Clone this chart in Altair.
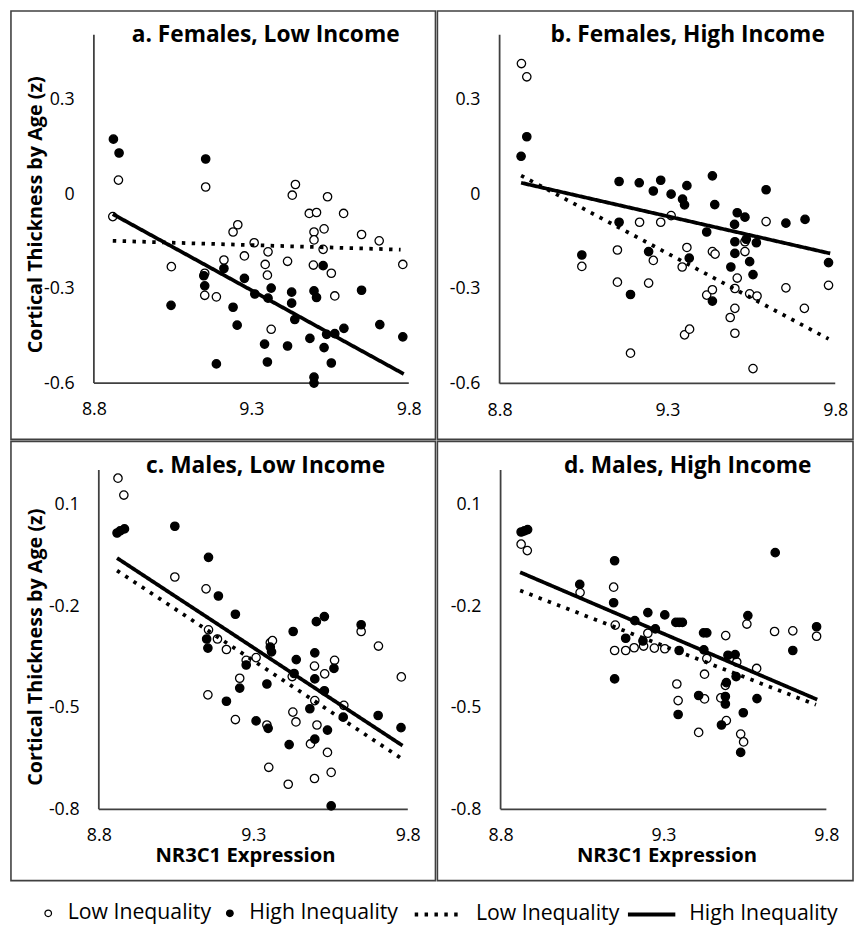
import altair as alt
import pandas as pd

# ---------------- data ----------------
# Panel a. Females, Low Income
A_LOW_X = [8.878, 8.860, 9.155, 9.046, 9.152, 9.152, 9.189, 9.213, 9.242, 9.257,
           9.278, 9.309, 9.344, 9.353, 9.351, 9.363, 9.415, 9.430, 9.440, 9.484,
           9.507, 9.499, 9.499, 9.531, 9.528, 9.497, 9.542, 9.554, 9.565, 9.593,
           9.650, 9.706, 9.781]
A_LOW_Y = [0.045, -0.071, 0.023, -0.230, -0.251, -0.321, -0.326, -0.209, -0.120, -0.097,
           -0.196, -0.154, -0.223, -0.183, -0.257, -0.429, -0.213, -0.003, 0.031, -0.061,
           -0.058, -0.120, -0.145, -0.110, -0.175, -0.225, -0.008, -0.251, -0.323, -0.061,
           -0.128, -0.148, -0.223]
A_HIGH_X = [8.862, 8.880, 9.155, 9.149, 9.152, 9.045, 9.189, 9.213, 9.242, 9.255,
            9.278, 9.311, 9.342, 9.351, 9.363, 9.353, 9.415, 9.428, 9.428, 9.438,
            9.486, 9.499, 9.507, 9.499, 9.499, 9.528, 9.531, 9.539, 9.554, 9.565,
            9.594, 9.650, 9.708, 9.781]
A_HIGH_Y = [0.175, 0.131, 0.112, -0.259, -0.291, -0.353, -0.539, -0.236, -0.359, -0.416,
            -0.267, -0.317, -0.476, -0.533, -0.298, -0.330, -0.482, -0.311, -0.346, -0.398,
            -0.458, -0.307, -0.328, -0.581, -0.600, -0.227, -0.487, -0.445, -0.536, -0.443,
            -0.426, -0.305, -0.414, -0.453]
A_FIT_LOW_X = [8.860, 9.774]
A_FIT_LOW_Y = [-0.148, -0.176]
A_FIT_HIGH_X = [8.860, 9.784]
A_FIT_HIGH_Y = [-0.063, -0.571]

# Panel b. Females, High Income
B_LOW_X = [8.865, 8.881, 9.045, 9.151, 9.151, 9.190, 9.217, 9.244, 9.258, 9.280,
           9.311, 9.344, 9.358, 9.351, 9.366, 9.417, 9.434, 9.434, 9.442, 9.487,
           9.501, 9.501, 9.501, 9.508, 9.531, 9.531, 9.545, 9.555, 9.567, 9.594,
           9.653, 9.708, 9.780]
B_LOW_Y = [0.414, 0.372, -0.229, -0.177, -0.279, -0.504, -0.089, -0.282, -0.210, -0.089,
           -0.068, -0.231, -0.169, -0.446, -0.428, -0.320, -0.303, -0.182, -0.190, -0.391,
           -0.362, -0.441, -0.299, -0.266, -0.182, -0.151, -0.316, -0.553, -0.323, -0.087,
           -0.297, -0.362, -0.289]
B_HIGH_X = [8.864, 8.881, 9.156, 9.156, 9.045, 9.190, 9.216, 9.244, 9.258, 9.280,
            9.311, 9.345, 9.351, 9.358, 9.365, 9.417, 9.434, 9.434, 9.441, 9.489,
            9.500, 9.501, 9.501, 9.508, 9.531, 9.535, 9.545, 9.555, 9.565, 9.594,
            9.653, 9.710, 9.780]
B_HIGH_Y = [0.120, 0.182, 0.040, -0.089, -0.193, -0.318, 0.036, -0.182, 0.010, 0.044,
            0.000, -0.016, -0.034, 0.027, -0.203, -0.120, 0.058, -0.339, -0.033, -0.231,
            -0.096, -0.151, -0.188, -0.059, -0.073, -0.143, -0.214, -0.255, -0.154, 0.014,
            -0.092, -0.080, -0.217]
B_FIT_LOW_X = [8.864, 9.780]
B_FIT_LOW_Y = [0.059, -0.459]
B_FIT_HIGH_X = [8.864, 9.785]
B_FIT_HIGH_Y = [0.036, -0.188]

# Panel c. Males, Low Income
C_LOW_X = [8.862, 8.881, 9.046, 9.147, 9.155, 9.184, 9.213, 9.153, 9.256, 9.242,
           9.277, 9.309, 9.355, 9.362, 9.344, 9.350, 9.413, 9.428, 9.438, 9.426,
           9.498, 9.531, 9.563, 9.499, 9.506, 9.485, 9.498, 9.540, 9.552, 9.593,
           9.649, 9.705, 9.779]
C_LOW_Y = [0.178, 0.128, -0.114, -0.149, -0.270, -0.297, -0.328, -0.462, -0.413, -0.535,
           -0.360, -0.352, -0.308, -0.302, -0.551, -0.676, -0.726, -0.513, -0.542, -0.408,
           -0.377, -0.400, -0.360, -0.479, -0.551, -0.607, -0.709, -0.632, -0.691, -0.493,
           -0.275, -0.318, -0.409]
C_HIGH_X = [8.859, 8.869, 8.883, 9.046, 9.155, 9.187, 9.242, 9.149, 9.153, 9.213,
            9.256, 9.277, 9.309, 9.344, 9.348, 9.359, 9.355, 9.416, 9.429, 9.439,
            9.432, 9.499, 9.499, 9.504, 9.530, 9.483, 9.499, 9.530, 9.540, 9.561,
            9.591, 9.552, 9.649, 9.704, 9.778]
C_HIGH_Y = [0.016, 0.022, 0.028, 0.036, -0.056, -0.170, -0.224, -0.297, -0.324, -0.481,
            -0.442, -0.374, -0.539, -0.430, -0.561, -0.335, -0.321, -0.609, -0.275, -0.358,
            -0.399, -0.338, -0.415, -0.246, -0.231, -0.503, -0.593, -0.450, -0.566, -0.384,
            -0.528, -0.790, -0.255, -0.523, -0.559]
C_FIT_LOW_X = [8.859, 9.778]
C_FIT_LOW_Y = [-0.095, -0.649]
C_FIT_HIGH_X = [8.859, 9.783]
C_FIT_HIGH_Y = [-0.058, -0.612]

# Panel d. Males, High Income
D_LOW_X = [8.863, 8.882, 9.044, 9.147, 9.152, 9.150, 9.184, 9.210, 9.239, 9.252,
           9.272, 9.304, 9.341, 9.345, 9.408, 9.426, 9.426, 9.433, 9.491, 9.476,
           9.490, 9.493, 9.525, 9.537, 9.546, 9.556, 9.586, 9.641, 9.697, 9.770]
D_LOW_Y = [-0.017, -0.036, -0.160, -0.144, -0.256, -0.331, -0.331, -0.323, -0.318, -0.280,
           -0.324, -0.326, -0.430, -0.479, -0.573, -0.401, -0.474, -0.355, -0.287, -0.471,
           -0.434, -0.538, -0.365, -0.578, -0.601, -0.253, -0.384, -0.275, -0.273, -0.289]
D_HIGH_X = [8.863, 8.873, 8.883, 9.043, 9.150, 9.147, 9.184, 9.212, 9.237, 9.252,
            9.275, 9.304, 9.338, 9.348, 9.358, 9.348, 9.345, 9.150, 9.408, 9.423,
            9.433, 9.424, 9.478, 9.493, 9.490, 9.490, 9.498, 9.520, 9.523, 9.545,
            9.537, 9.559, 9.587, 9.643, 9.697, 9.770]
D_HIGH_Y = [0.019, 0.022, 0.026, -0.136, -0.066, -0.190, -0.295, -0.243, -0.303, -0.219,
            -0.267, -0.226, -0.248, -0.248, -0.248, -0.331, -0.520, -0.415, -0.464, -0.279,
            -0.279, -0.329, -0.551, -0.426, -0.467, -0.489, -0.345, -0.343, -0.408, -0.515,
            -0.632, -0.228, -0.473, -0.042, -0.331, -0.261]
D_FIT_LOW_X = [8.860, 9.768]
D_FIT_LOW_Y = [-0.154, -0.491]
D_FIT_HIGH_X = [8.860, 9.772]
D_FIT_HIGH_Y = [-0.100, -0.476]

TITLES = ["a. Females, Low Income", "b. Females, High Income",
          "c. Males, Low Income", "d. Males, High Income"]
X_TICKS = [8.8, 9.3, 9.8]
Y_TICKS_TOP = [-0.6, -0.3, 0, 0.3]
Y_TICKS_BOTTOM = [-0.8, -0.5, -0.2, 0.1]
GROUPS_PTS = ["low_pts", "high_pts"]
GROUPS_FIT = ["low_fit", "high_fit"]
Y_TITLE = "Cortical Thickness by Age (z)"
X_TITLE = "NR3C1 Expression"

# ---------------- styling / layout ----------------
FONT = "Open Sans"
INK = "#000000"
FRAME = "#404040"

# per-panel pixel geometry (panel box size and where the axis anchors sit)
GEO = {
    "a": dict(W=430, H=434, x88=84, x98=403, vhi=0.3, phi=90, vlo=-0.6, plo=377, top=24,
              ytx=-53, yty=206, xtx=None, title_y=31),
    "b": dict(W=421, H=434, x88=63, x98=403, vhi=0.3, phi=89.7, vlo=-0.6, plo=377.3, top=24,
              ytx=None, yty=None, xtx=None, title_y=31),
    "c": dict(W=430, H=445, x88=89, x98=402, vhi=0.1, phi=64, vlo=-0.8, plo=372.7, top=29,
              ytx=-58, yty=208, xtx=237, title_y=32),
    "d": dict(W=421, H=445, x88=64, x98=394, vhi=0.1, phi=64, vlo=-0.8, plo=372.7, top=29,
              ytx=None, yty=None, xtx=232, title_y=32),
}

PTS_LEGEND = alt.Legend(
    title=None, orient="none", legendX=27, legendY=903, direction="horizontal",
    labelExpr="datum.value == 'low_pts' ? 'Low Inequality' : 'High Inequality'",
    labelFont=FONT, labelFontSize=21.5, labelColor=INK, labelOffset=9,
    symbolType="circle", symbolSize=44, symbolStrokeColor="black", symbolStrokeWidth=1.3,
    columnPadding=8, padding=0,
)
FIT_LEGEND = alt.Legend(
    title=None, orient="none", legendX=407, legendY=889, direction="horizontal",
    labelExpr="datum.value == 'low_fit' ? 'Low Inequality' : 'High Inequality'",
    labelFont=FONT, labelFontSize=21.5, labelColor=INK, labelOffset=12,
    symbolType="stroke", symbolSize=2304, symbolStrokeColor="black", symbolStrokeWidth=4,
    columnPadding=0, padding=0,
)


def panel(key, title, lx, ly, hx, hy, flx, fly, fhx, fhy, y_ticks, show_y_title, show_x_title):
    g = GEO[key]
    W, H = g["W"], g["H"]
    ppx = (g["x98"] - g["x88"]) / 1.0
    xdom = [8.8 - g["x88"] / ppx, 8.8 + (W - g["x88"]) / ppx]
    ppy = (g["plo"] - g["phi"]) / (g["vhi"] - g["vlo"])
    ydom = [g["vlo"] - (H - g["plo"]) / ppy, g["vhi"] + g["phi"] / ppy]
    ytop = g["vhi"] + (g["phi"] - g["top"]) / ppy

    xaxis_kw = dict(values=X_TICKS, domain=False, ticks=False, grid=False,
                    offset=-(H - g["plo"]), labelPadding=32, labelBaseline="alphabetic",
                    labelFont=FONT, labelFontSize=18, labelColor=INK,
                    labelExpr="'' + datum.value", labelOverlap=False, labelFlush=False)
    if show_x_title:
        xaxis_kw.update(title=X_TITLE, titleFont=FONT, titleFontSize=20.5, titleFontWeight="bold",
                        titleColor=INK, titleX=g["xtx"], titleY=53, titleBaseline="alphabetic")
    else:
        xaxis_kw.update(title=None)

    yaxis_kw = dict(values=y_ticks, domain=False, ticks=False, grid=False,
                    offset=-g["x88"], labelPadding=20,
                    labelFont=FONT, labelFontSize=18, labelColor=INK,
                    labelExpr="'' + datum.value", labelOverlap=False, labelFlush=False)
    if show_y_title:
        yaxis_kw.update(title=Y_TITLE, titleFont=FONT, titleFontSize=20, titleFontWeight="bold",
                        titleColor=INK, titleX=g["ytx"], titleY=g["yty"], titleBaseline="alphabetic")
    else:
        yaxis_kw.update(title=None)

    X = alt.X("x:Q", scale=alt.Scale(domain=xdom, nice=False, zero=False), axis=alt.Axis(**xaxis_kw))
    Y = alt.Y("y:Q", scale=alt.Scale(domain=ydom, nice=False, zero=False), axis=alt.Axis(**yaxis_kw))

    pts = pd.DataFrame({
        "x": lx + hx,
        "y": ly + hy,
        "grp": [GROUPS_PTS[0]] * len(lx) + [GROUPS_PTS[1]] * len(hx),
    })
    fit = pd.DataFrame({
        "x": flx + fhx,
        "y": fly + fhy,
        "grp": [GROUPS_FIT[0]] * len(flx) + [GROUPS_FIT[1]] * len(fhx),
    })
    vrule = pd.DataFrame({"x": [X_TICKS[0]], "y": [y_ticks[0]], "y2": [ytop]})
    hrule = pd.DataFrame({"x": [X_TICKS[0]], "x2": [X_TICKS[-1]], "y": [y_ticks[0]]})
    ttl = pd.DataFrame({"t": [title]})

    l_v = alt.Chart(vrule).mark_rule(color=FRAME, strokeWidth=1.8).encode(x=X, y=Y, y2="y2:Q")
    l_h = alt.Chart(hrule).mark_rule(color=FRAME, strokeWidth=1.8).encode(x=X, x2="x2:Q", y=Y)
    l_p = alt.Chart(pts).mark_point(filled=True, shape="circle", size=72, stroke="black",
                                    strokeWidth=1.3, opacity=1).encode(
        x=X, y=Y,
        fill=alt.Fill("grp:N", scale=alt.Scale(domain=GROUPS_PTS, range=["white", "black"]),
                      legend=PTS_LEGEND),
    )
    l_f = alt.Chart(fit).mark_line(color="black", strokeWidth=3.8, strokeCap="butt").encode(
        x=X, y=Y,
        strokeDash=alt.StrokeDash("grp:N", scale=alt.Scale(domain=GROUPS_FIT,
                                                           range=[[3.5, 6.5], [1, 0]]),
                                  legend=FIT_LEGEND),
    )
    l_t = alt.Chart(ttl).mark_text(font=FONT, fontSize=23, fontWeight="bold", color=INK,
                                   align="center", baseline="alphabetic").encode(
        text="t:N", x=alt.value(W / 2 + 43), y=alt.value(g["title_y"]),
    )
    return alt.layer(l_v, l_h, l_p, l_f, l_t).properties(width=W, height=H)


pa = panel("a", TITLES[0], A_LOW_X, A_LOW_Y, A_HIGH_X, A_HIGH_Y,
           A_FIT_LOW_X, A_FIT_LOW_Y, A_FIT_HIGH_X, A_FIT_HIGH_Y, Y_TICKS_TOP, True, False)
pb = panel("b", TITLES[1], B_LOW_X, B_LOW_Y, B_HIGH_X, B_HIGH_Y,
           B_FIT_LOW_X, B_FIT_LOW_Y, B_FIT_HIGH_X, B_FIT_HIGH_Y, Y_TICKS_TOP, False, False)
pc = panel("c", TITLES[2], C_LOW_X, C_LOW_Y, C_HIGH_X, C_HIGH_Y,
           C_FIT_LOW_X, C_FIT_LOW_Y, C_FIT_HIGH_X, C_FIT_HIGH_Y, Y_TICKS_BOTTOM, True, True)
pd_ = panel("d", TITLES[3], D_LOW_X, D_LOW_Y, D_HIGH_X, D_HIGH_Y,
            D_FIT_LOW_X, D_FIT_LOW_Y, D_FIT_HIGH_X, D_FIT_HIGH_Y, Y_TICKS_BOTTOM, False, True)

top = alt.hconcat(pa, pb, spacing=0).resolve_scale(x="independent", y="independent")
bottom = alt.hconcat(pc, pd_, spacing=0).resolve_scale(x="independent", y="independent")

chart = (
    alt.vconcat(top, bottom, spacing=0)
    .resolve_scale(x="independent", y="independent", fill="shared", strokeDash="shared")
    .properties(padding={"left": 2, "top": -4, "right": 0, "bottom": 0}, background="white")
    .configure_view(stroke=FRAME, strokeWidth=1.6)
)

chart.save("out.html", embed_options={"renderer": "svg", "actions": False})
